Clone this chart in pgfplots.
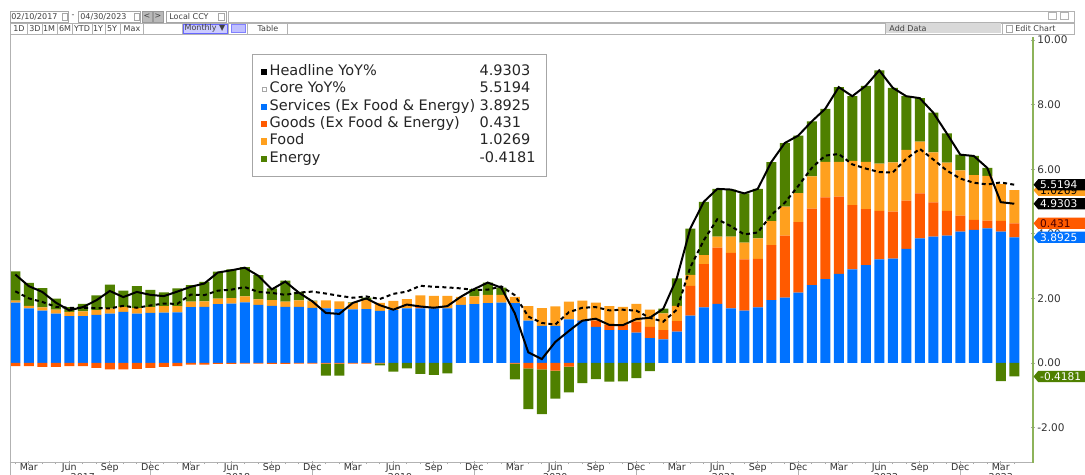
\documentclass[border=0pt]{standalone}
\usepackage{pgfplots}
\pgfplotsset{compat=1.18}
\usepackage{pgfplotstable}
\usepackage{fontspec}
\setmainfont{DejaVu Sans}
\usetikzlibrary{shapes.symbols}

\definecolor{cS}{HTML}{0072FF}
\definecolor{cG}{HTML}{FF5A00}
\definecolor{cF}{HTML}{FFA01E}
\definecolor{cE}{HTML}{4F8000}
\definecolor{axgreen}{HTML}{8DB35A}
\definecolor{txt}{HTML}{333333}

% i: month index (0 = Feb 2017 ... 74 = Apr 2023)
\pgfplotstableread{
i S Gp F Ep Gn En H C
0 1.87 0 0.06 0.91 -0.10 0 2.74 2.22
1 1.69 0 0.08 0.71 -0.10 0 2.38 2.00
2 1.62 0 0.10 0.60 -0.12 0 2.20 1.89
3 1.53 0 0.12 0.34 -0.12 0 1.87 1.74
4 1.45 0 0.13 0.15 -0.10 0 1.63 1.71
5 1.45 0 0.15 0.23 -0.10 0 1.73 1.71
6 1.49 0 0.15 0.45 -0.15 0 1.94 1.70
7 1.53 0 0.15 0.75 -0.20 0 2.23 1.69
8 1.58 0 0.16 0.50 -0.20 0 2.04 1.77
9 1.53 0 0.17 0.68 -0.18 0 2.20 1.71
10 1.55 0 0.18 0.53 -0.15 0 2.11 1.78
11 1.56 0 0.20 0.43 -0.12 0 2.07 1.84
12 1.57 0 0.19 0.55 -0.10 0 2.21 1.83
13 1.73 0 0.17 0.51 -0.05 0 2.36 2.12
14 1.74 0 0.17 0.60 -0.05 0 2.46 2.10
15 1.82 0 0.17 0.84 -0.03 0 2.80 2.24
16 1.84 0 0.17 0.89 -0.03 0 2.87 2.27
17 1.88 0 0.18 0.91 -0.02 0 2.95 2.35
18 1.80 0 0.17 0.75 -0.02 0 2.70 2.20
19 1.77 0 0.18 0.36 -0.03 0 2.28 2.17
20 1.74 0 0.16 0.65 -0.03 0 2.52 2.11
21 1.74 0 0.20 0.26 -0.02 0 2.18 2.18
22 1.71 0 0.20 0.02 -0.02 0 1.91 2.21
23 1.69 0 0.25 0 -0.02 -0.37 1.55 2.15
24 1.67 0 0.24 0 -0.02 -0.37 1.52 2.08
25 1.66 0 0.20 0.02 -0.02 0 1.86 2.02
26 1.67 0 0.28 0.07 -0.02 0 2.00 2.06
27 1.61 0 0.25 0 -0.01 -0.06 1.79 1.98
28 1.64 0 0.28 0 0 -0.27 1.65 2.14
29 1.69 0 0.29 0 0 -0.17 1.81 2.21
30 1.69 0.05 0.35 0 0 -0.34 1.75 2.39
31 1.69 0.03 0.36 0 0 -0.37 1.71 2.36
32 1.69 0.01 0.38 0 0 -0.32 1.76 2.34
33 1.80 0 0.25 0 0 0 2.05 2.31
34 1.82 0 0.24 0.23 0 0 2.29 2.26
35 1.85 0 0.26 0.38 0 0 2.49 2.27
36 1.87 0 0.24 0.22 0 0 2.33 2.37
37 1.85 0 0.20 0 -0.02 -0.49 1.54 2.10
38 1.31 0 0.45 0 -0.17 -1.26 0.33 1.44
39 1.15 0 0.55 0 -0.20 -1.38 0.12 1.24
40 1.15 0 0.60 0 -0.24 -0.86 0.65 1.19
41 1.35 0 0.55 0 -0.11 -0.80 0.99 1.57
42 1.31 0.02 0.60 0 0 -0.62 1.31 1.71
43 1.12 0.19 0.56 0 0 -0.50 1.37 1.73
44 1.02 0.15 0.59 0 0 -0.58 1.18 1.63
45 1.02 0.15 0.57 0 0 -0.57 1.17 1.65
46 0.94 0.34 0.55 0 0 -0.47 1.36 1.62
47 0.77 0.35 0.53 0 0 -0.25 1.40 1.40
48 0.73 0.29 0.52 0.14 0 0 1.68 1.28
49 0.97 0.33 0.47 0.85 0 0 2.62 1.65
50 1.47 0.92 0.34 1.43 0 0 4.16 2.96
51 1.72 1.34 0.28 1.65 0 0 4.99 3.80
52 1.83 1.74 0.34 1.48 0 0 5.39 4.45
53 1.69 1.72 0.50 1.46 0 0 5.37 4.24
54 1.62 1.59 0.52 1.52 0 0 5.25 3.98
55 1.72 1.50 0.64 1.53 0 0 5.39 4.04
56 1.95 1.70 0.74 1.83 0 0 6.22 4.58
57 2.02 1.92 0.90 1.97 0 0 6.81 4.96
58 2.18 2.18 0.90 1.78 0 0 7.04 5.48
59 2.41 2.37 1.00 1.70 0 0 7.48 6.04
60 2.60 2.53 1.10 1.64 0 0 7.87 6.42
61 2.76 2.39 1.08 2.31 0 0 8.54 6.47
62 2.90 1.99 1.37 2.00 0 0 8.26 6.15
63 3.03 1.73 1.47 2.35 0 0 8.58 6.02
64 3.21 1.50 1.46 2.89 0 0 9.06 5.91
65 3.23 1.46 1.52 2.31 0 0 8.52 5.90
66 3.53 1.50 1.57 1.66 0 0 8.26 6.32
67 3.86 1.39 1.60 1.35 0 0 8.20 6.63
68 3.91 1.06 1.55 1.23 0 0 7.75 6.30
69 3.94 0.77 1.49 0.91 0 0 7.11 5.96
70 4.07 0.49 1.40 0.49 0 0 6.45 5.71
71 4.12 0.31 1.39 0.59 0 0 6.41 5.58
72 4.17 0.24 1.38 0.25 0 0 6.04 5.53
73 4.07 0.33 1.14 0 0 -0.56 4.98 5.59
74 3.8925 0.431 1.0269 0 0 -0.4181 4.9303 5.5194
}\cpi

\pgfplotsset{
  base/.style={scale only axis, width=511.5pt, height=213pt,
    at={(5pt,6pt)}, anchor=south west,
    xmin=-0.393, xmax=75.39, ymin=-3.096, ymax=10.093},
  barax/.style={base, hide axis, ybar stacked, bar width=0.74, clip=false}
}
\tikzset{tag/.style={signal, signal to=west, signal pointer angle=100,
    anchor=west, text=white, font=\fontsize{5.3}{5.5}\selectfont,
    inner xsep=1pt, inner ysep=0.6pt, minimum height=5.6pt}}

\begin{document}
\begin{tikzpicture}[x=0.5pt,y=0.5pt]
% ---------- toolbar ----------
\begin{scope}[font=\fontsize{4}{4.5}\selectfont, text=black!75]
\fill[white] (0,0) rectangle (1085,475);
\draw[gray!60, fill=white] (228,453) rectangle (1074,464);
\draw[gray!70, fill=white] (10,453) rectangle (68,464);
\node[anchor=west, inner sep=0] at (11,458.5) {02/10/2017};
\draw[gray!70] (62,455) rectangle (67,462);
\node[inner sep=0] at (73,458.5) {-};
\draw[gray!70, fill=white] (78,453) rectangle (140,464);
\node[anchor=west, inner sep=0] at (80,458.5) {04/30/2023};
\draw[gray!70] (134,455) rectangle (139,462);
\draw[gray!80, fill=gray!55] (142,453) rectangle (152,464);
\node[inner sep=0] at (147,458.5) {<};
\draw[gray!80, fill=gray!55] (153,453) rectangle (163,464);
\node[inner sep=0] at (158,458.5) {>};
\draw[gray!70, fill=white] (166,453) rectangle (226,464);
\node[anchor=west, inner sep=0] at (169,458.5) {Local CCY};
\draw[gray!70] (218,455) rectangle (224,462);
\draw[gray!60, fill=white] (10,441) rectangle (1074,452);
\foreach \xx in {27,42,57,72,92,105,120,143,182,228,247,287,885,1002}
  \draw[gray!60] (\xx,441) -- (\xx,452);
\fill[blue!20] (183,442) rectangle (227,451);
\draw[blue!60] (183,442) rectangle (227,451);
\fill[blue!25] (231,442.5) rectangle (245,450.5);
\draw[blue!50] (231,442.5) rectangle (245,450.5);
\fill[gray!30] (886,441.5) rectangle (1001,451.5);
\foreach \xx/\tt in {19/1D,35/3D,49/1M,65/6M,82/YTD,98/1Y,112/5Y,132/Max,205/Monthly ▼,268/Table}
  \node[inner sep=0] at (\xx,446.5) {\tt};
\node[anchor=west, inner sep=0] at (889,446.5) {Add Data};
\draw[gray!70] (1006,443) rectangle (1012,450);
\node[anchor=west, inner sep=0] at (1015,446.5) {Edit Chart};
\draw[gray!60] (1048,456) rectangle (1056,463);
\draw[gray!60] (1060,456) rectangle (1068,463);
\end{scope}

% ---------- positive stack ----------
\begin{axis}[barax]
\addplot[fill=cS, draw=none] table[x=i,y=S]{\cpi};
\addplot[fill=cG, draw=none] table[x=i,y=Gp]{\cpi};
\addplot[fill=cF, draw=none] table[x=i,y=F]{\cpi};
\addplot[fill=cE, draw=none] table[x=i,y=Ep]{\cpi};
\end{axis}
% ---------- negative stack ----------
\begin{axis}[barax]
\addplot[fill=cG, draw=none] table[x=i,y=Gn]{\cpi};
\addplot[fill=cE, draw=none] table[x=i,y=En]{\cpi};
\end{axis}
% ---------- lines, axes, legend ----------
\begin{axis}[base, clip=false,
  axis x line*=bottom, axis y line*=right,
  x axis line style={gray!60, line width=0.5pt},
  y axis line style={axgreen, line width=0.6pt},
  tick align=center, major tick length=1.6pt, minor tick length=1.1pt,
  tick style={gray!70, line width=0.4pt},
  xtick={1,4,...,73},
  xticklabels={Mar,Jun,Sep,Dec,Mar,Jun,Sep,Dec,Mar,Jun,Sep,Dec,Mar,Jun,Sep,Dec,Mar,Jun,Sep,Dec,Mar,Jun,Sep,Dec,Mar},
  minor xtick={0,...,74},
  x tick label style={font=\fontsize{4.75}{5}\selectfont, text=txt, inner sep=0.3pt, yshift=0.9pt},
  ytick={-2,0,2,4,6,8,10},
  minor ytick={-3,-1,1,3,5,7,9},
  yticklabel pos=right,
  y tick label style={font=\fontsize{5.25}{6}\selectfont, text=txt, anchor=west, inner sep=1.2pt},
  /pgf/number format/.cd, fixed, fixed zerofill, precision=2, assume math mode=true,
  /pgfplots/.cd,
  legend cell align=left,
  legend style={at={(0.2366,0.9601)}, anchor=north west, draw=gray!70, fill=white,
    font=\fontsize{7.25}{8.7}\selectfont, text=black!85,
    inner xsep=4.3pt, inner ysep=4.6pt, row sep=0pt,
    nodes={inner xsep=1.3pt, inner ysep=0pt, text height=6pt, text depth=2.65pt}},
]
\addlegendimage{legend image code/.code={\fill[black] (0pt,-1.3pt) rectangle (2.6pt,1.3pt);}}
\addlegendentry{\makebox[105pt][l]{Headline YoY\%}4.9303}
\addlegendimage{legend image code/.code={\draw[gray!70, fill=white, line width=0.3pt] (0.2pt,-1.1pt) rectangle (2.4pt,1.1pt);}}
\addlegendentry{\makebox[105pt][l]{Core YoY\%}5.5194}
\addlegendimage{legend image code/.code={\fill[cS] (0pt,-1.3pt) rectangle (2.6pt,1.3pt);}}
\addlegendentry{\makebox[105pt][l]{Services (Ex Food \& Energy)}3.8925}
\addlegendimage{legend image code/.code={\fill[cG] (0pt,-1.3pt) rectangle (2.6pt,1.3pt);}}
\addlegendentry{\makebox[105pt][l]{Goods (Ex Food \& Energy)}0.431}
\addlegendimage{legend image code/.code={\fill[cF] (0pt,-1.3pt) rectangle (2.6pt,1.3pt);}}
\addlegendentry{\makebox[105pt][l]{Food}1.0269}
\addlegendimage{legend image code/.code={\fill[cE] (0pt,-1.3pt) rectangle (2.6pt,1.3pt);}}
\addlegendentry{\makebox[105pt][l]{Energy}-0.4181}

\addplot[black, line width=1pt, mark=none, forget plot] table[x=i,y=H]{\cpi};
\addplot[black, line width=1pt, mark=none, dash pattern=on 2pt off 1.6pt, forget plot] table[x=i,y=C]{\cpi};

% value tags on the right axis
\node[tag, fill=cF, text=black] at (axis cs:75.39,5.3504) {1.0269\hspace*{5pt}};
\node[tag, fill=black] at (axis cs:75.39,5.5194) {5.5194\hspace*{5pt}};
\node[tag, fill=black] at (axis cs:75.39,4.9303) {4.9303\hspace*{5pt}};
\node[tag, fill=cG, text=black!70!red] at (axis cs:75.39,4.3235) {0.431\hspace*{10pt}};
\node[tag, fill=cS] at (axis cs:75.39,3.8925) {3.8925\hspace*{5pt}};
\node[tag, fill=cE] at (axis cs:75.39,-0.4181) {-0.4181\hspace*{5pt}};
\end{axis}
% year row (x = 15.3 + 13.5 i, in px units)
\foreach \yy/\ii in {2017/5,2018/16.5,2019/28.5,2020/40,2021/52.5,2022/64.5,2023/73}
  \node[anchor=north, inner sep=0, font=\fontsize{4.75}{5}\selectfont, text=txt]
    at ({15.3+13.5*\ii},2.2) {\yy};
\foreach \ii in {10,22,34,46,58,70}
  \draw[gray!60] ({15.3+13.5*\ii},4.5) -- ({15.3+13.5*\ii},-2);
% left border
\draw[gray!60] (10,0) -- (10,440);
\pgfresetboundingbox
\path[use as bounding box] (0,0) rectangle (1085,475);
\end{tikzpicture}
\end{document}
